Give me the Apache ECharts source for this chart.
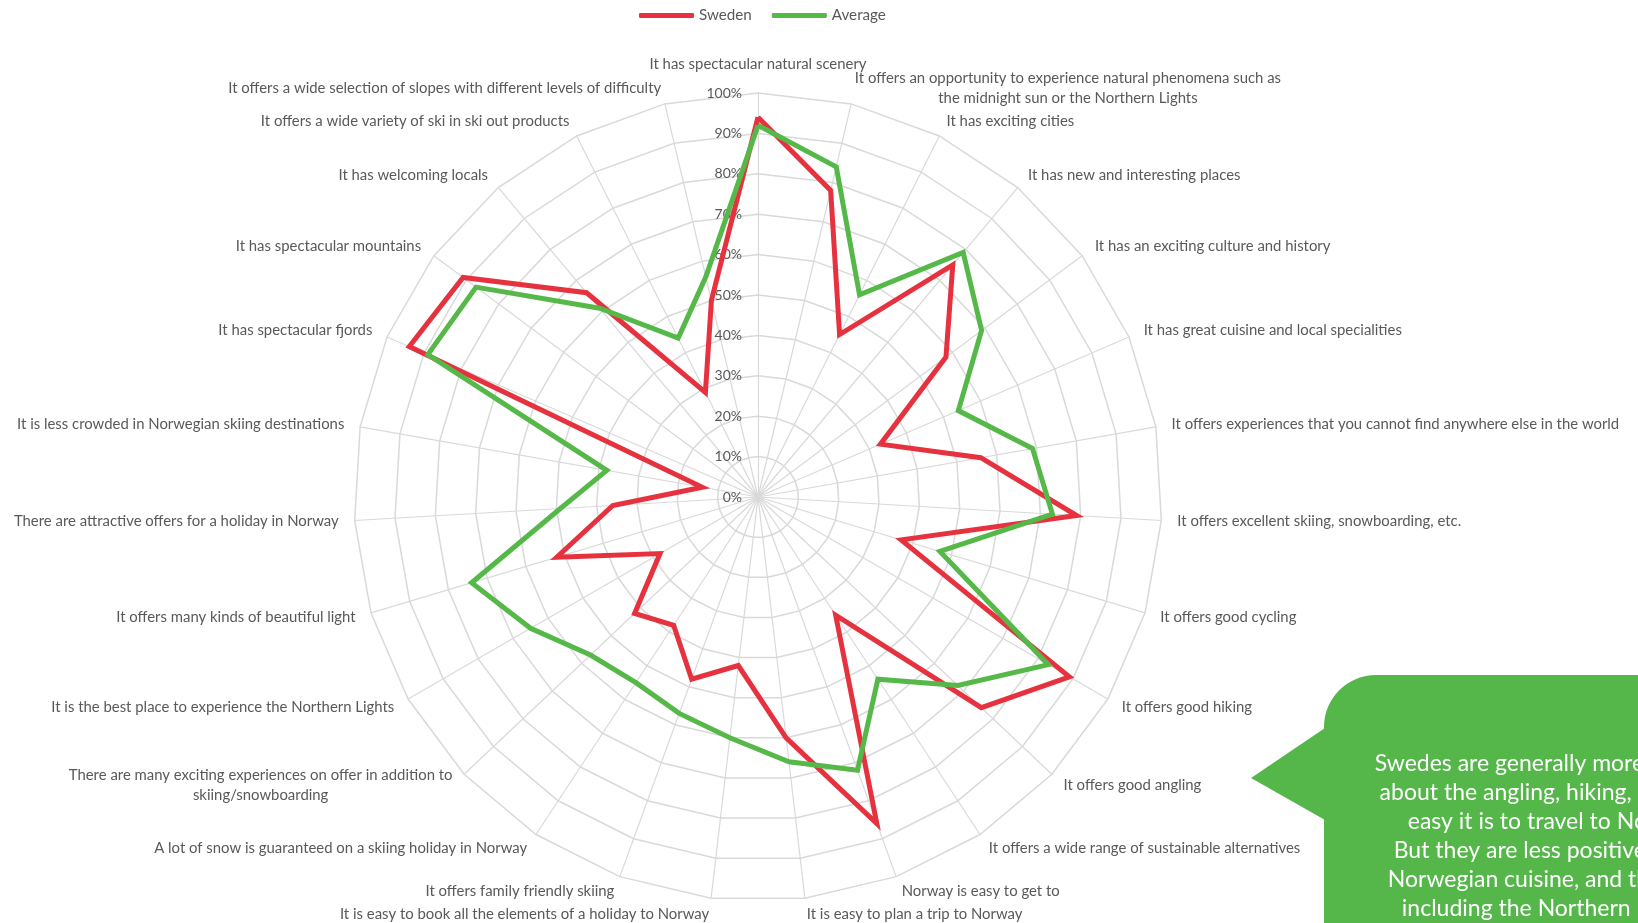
<!DOCTYPE html>
<html>
<head>
<meta charset="utf-8">
<script src="https://cdn.jsdelivr.net/npm/echarts@6/dist/echarts.min.js"></script>
<style>
  html, body { margin: 0; padding: 0; background: #ffffff; }
  #chart { width: 1638px; height: 923px; }
</style>
</head>
<body>
<div id="chart"></div>
<script>
// Statements, listed clockwise starting from the top spoke
const categories = [
  'It has spectacular natural scenery',
  'It offers an opportunity to experience natural phenomena such as\nthe midnight sun or the Northern Lights',
  'It has exciting cities',
  'It has new and interesting places',
  'It has an exciting culture and history',
  'It has great cuisine and local specialities',
  'It offers experiences that you cannot find anywhere else in the world',
  'It offers excellent skiing, snowboarding, etc.',
  'It offers good cycling',
  'It offers good hiking',
  'It offers good angling',
  'It offers a wide range of sustainable alternatives',
  'Norway is easy to get to',
  'It is easy to plan a trip to Norway',
  'It is easy to book all the elements of a holiday to Norway',
  'It offers family friendly skiing',
  'A lot of snow is guaranteed on a skiing holiday in Norway',
  'There are many exciting experiences on offer in addition to\nskiing/snowboarding',
  'It is the best place to experience the Northern Lights',
  'It offers many kinds of beautiful light',
  'There are attractive offers for a holiday in Norway',
  'It is less crowded in Norwegian skiing destinations',
  'It has spectacular fjords',
  'It has spectacular mountains',
  'It has welcoming locals',
  'It offers a wide variety of ski in ski out products',
  'It offers a wide selection of slopes with different levels of difficulty'
];

// Share agreeing with each statement (%)
const sweden = [94, 78, 45, 75, 58, 33, 56, 79, 37, 89, 76, 35, 86, 60, 42, 48, 38, 42, 28, 52, 36, 14, 94, 91, 66, 29, 50];
const average = [92, 84, 56, 79, 69, 54, 69, 73, 47, 83, 68, 54, 72, 66, 60, 57, 55, 57, 65, 74, 49, 38, 89, 87, 61, 44, 56];

const tickLabels = ['0%', '10%', '20%', '30%', '40%', '50%', '60%', '70%', '80%', '90%', '100%'];

const bubbleLines = [
  'Swedes are generally more positive',
  'about the angling, hiking, and how',
  'easy it is to travel to Norway',
  'But they are less positive about',
  'Norwegian cuisine, and the light,',
  'including the Northern Lights.'
];

const RED = '#e5323e';
const GREEN = '#55b848';
const BUBBLE = '#55b74a';
const TEXT = '#595959';
const FONT = 'Lato';
const NAME_SIZE = 14.9;

// ECharts lays radar indicators out counter-clockwise; feed them in reverse
// (keeping the first at the top) so the statements run clockwise.
const order = [0];
for (let i = categories.length - 1; i >= 1; i--) order.push(i);

const chart = echarts.init(document.getElementById('chart'), null, { renderer: 'canvas' });

const nameRich = {
  c: { align: 'center', color: TEXT, fontSize: NAME_SIZE, fontFamily: FONT, lineHeight: 20 },
  t: { color: TEXT, fontSize: NAME_SIZE, fontFamily: FONT, padding: [0, 0, 5, 0] }
};

chart.setOption({
  animation: false,
  backgroundColor: '#ffffff',
  legend: {
    top: 3,
    left: 634,
    icon: 'roundRect',
    itemWidth: 55,
    itemHeight: 5,
    itemGap: 20,
    textStyle: { color: TEXT, fontSize: 15.2, fontFamily: FONT },
    data: ['Sweden', 'Average']
  },
  radar: {
    center: [758, 497],
    radius: 404,
    startAngle: 90,
    splitNumber: 10,
    shape: 'polygon',
    nameGap: 16,
    indicator: order.map((idx, k) => ({
      name: categories[idx],
      min: 0,
      max: 100,
      axisLabel: k === 0 ? {} : { show: false }
    })),
    axisName: {
      color: TEXT,
      fontSize: NAME_SIZE,
      fontFamily: FONT,
      formatter: function (name) {
        if (name === categories[0]) return '{t|' + name + '}';
        if (name.indexOf('\n') < 0) return name;
        return name.split('\n').map(s => '{c|' + s + '}').join('\n');
      },
      rich: nameRich
    },
    axisLabel: {
      show: true,
      color: TEXT,
      fontSize: 14,
      fontFamily: FONT,
      margin: 16,
      hideOverlap: false,
      showMinLabel: true,
      showMaxLabel: true,
      formatter: function (v) { return tickLabels[Math.round(v / 10)]; }
    },
    axisTick: { show: false },
    axisLine: { lineStyle: { color: '#d9d9d9', width: 1.2 } },
    splitLine: { lineStyle: { color: '#d9d9d9', width: 1.5 } },
    splitArea: { show: false }
  },
  series: [
    {
      type: 'radar',
      symbol: 'none',
      z: 2,
      lineStyle: { width: 5, color: RED, join: 'miter' },
      itemStyle: { color: RED },
      data: [{ name: 'Sweden', value: order.map(i => sweden[i]) }]
    },
    {
      type: 'radar',
      symbol: 'none',
      z: 3,
      lineStyle: { width: 5, color: GREEN, join: 'miter' },
      itemStyle: { color: GREEN },
      data: [{ name: 'Average', value: order.map(i => average[i]) }]
    }
  ],
  graphic: [
    {
      type: 'group',
      children: [
        {
          type: 'rect',
          shape: { x: 1324, y: 675, width: 460, height: 320, r: [52, 0, 0, 0] },
          style: { fill: BUBBLE }
        },
        {
          type: 'polygon',
          shape: { points: [[1325, 728], [1251, 778], [1325, 820]] },
          style: { fill: BUBBLE }
        },
        {
          type: 'text',
          style: {
            text: bubbleLines.join('\n'),
            x: 1552,
            y: 749,
            fill: '#ffffff',
            fontSize: 23,
            fontFamily: FONT,
            lineHeight: 29,
            align: 'center',
            textAlign: 'center',
            verticalAlign: 'top'
          }
        }
      ]
    }
  ]
});
</script>
</body>
</html>
